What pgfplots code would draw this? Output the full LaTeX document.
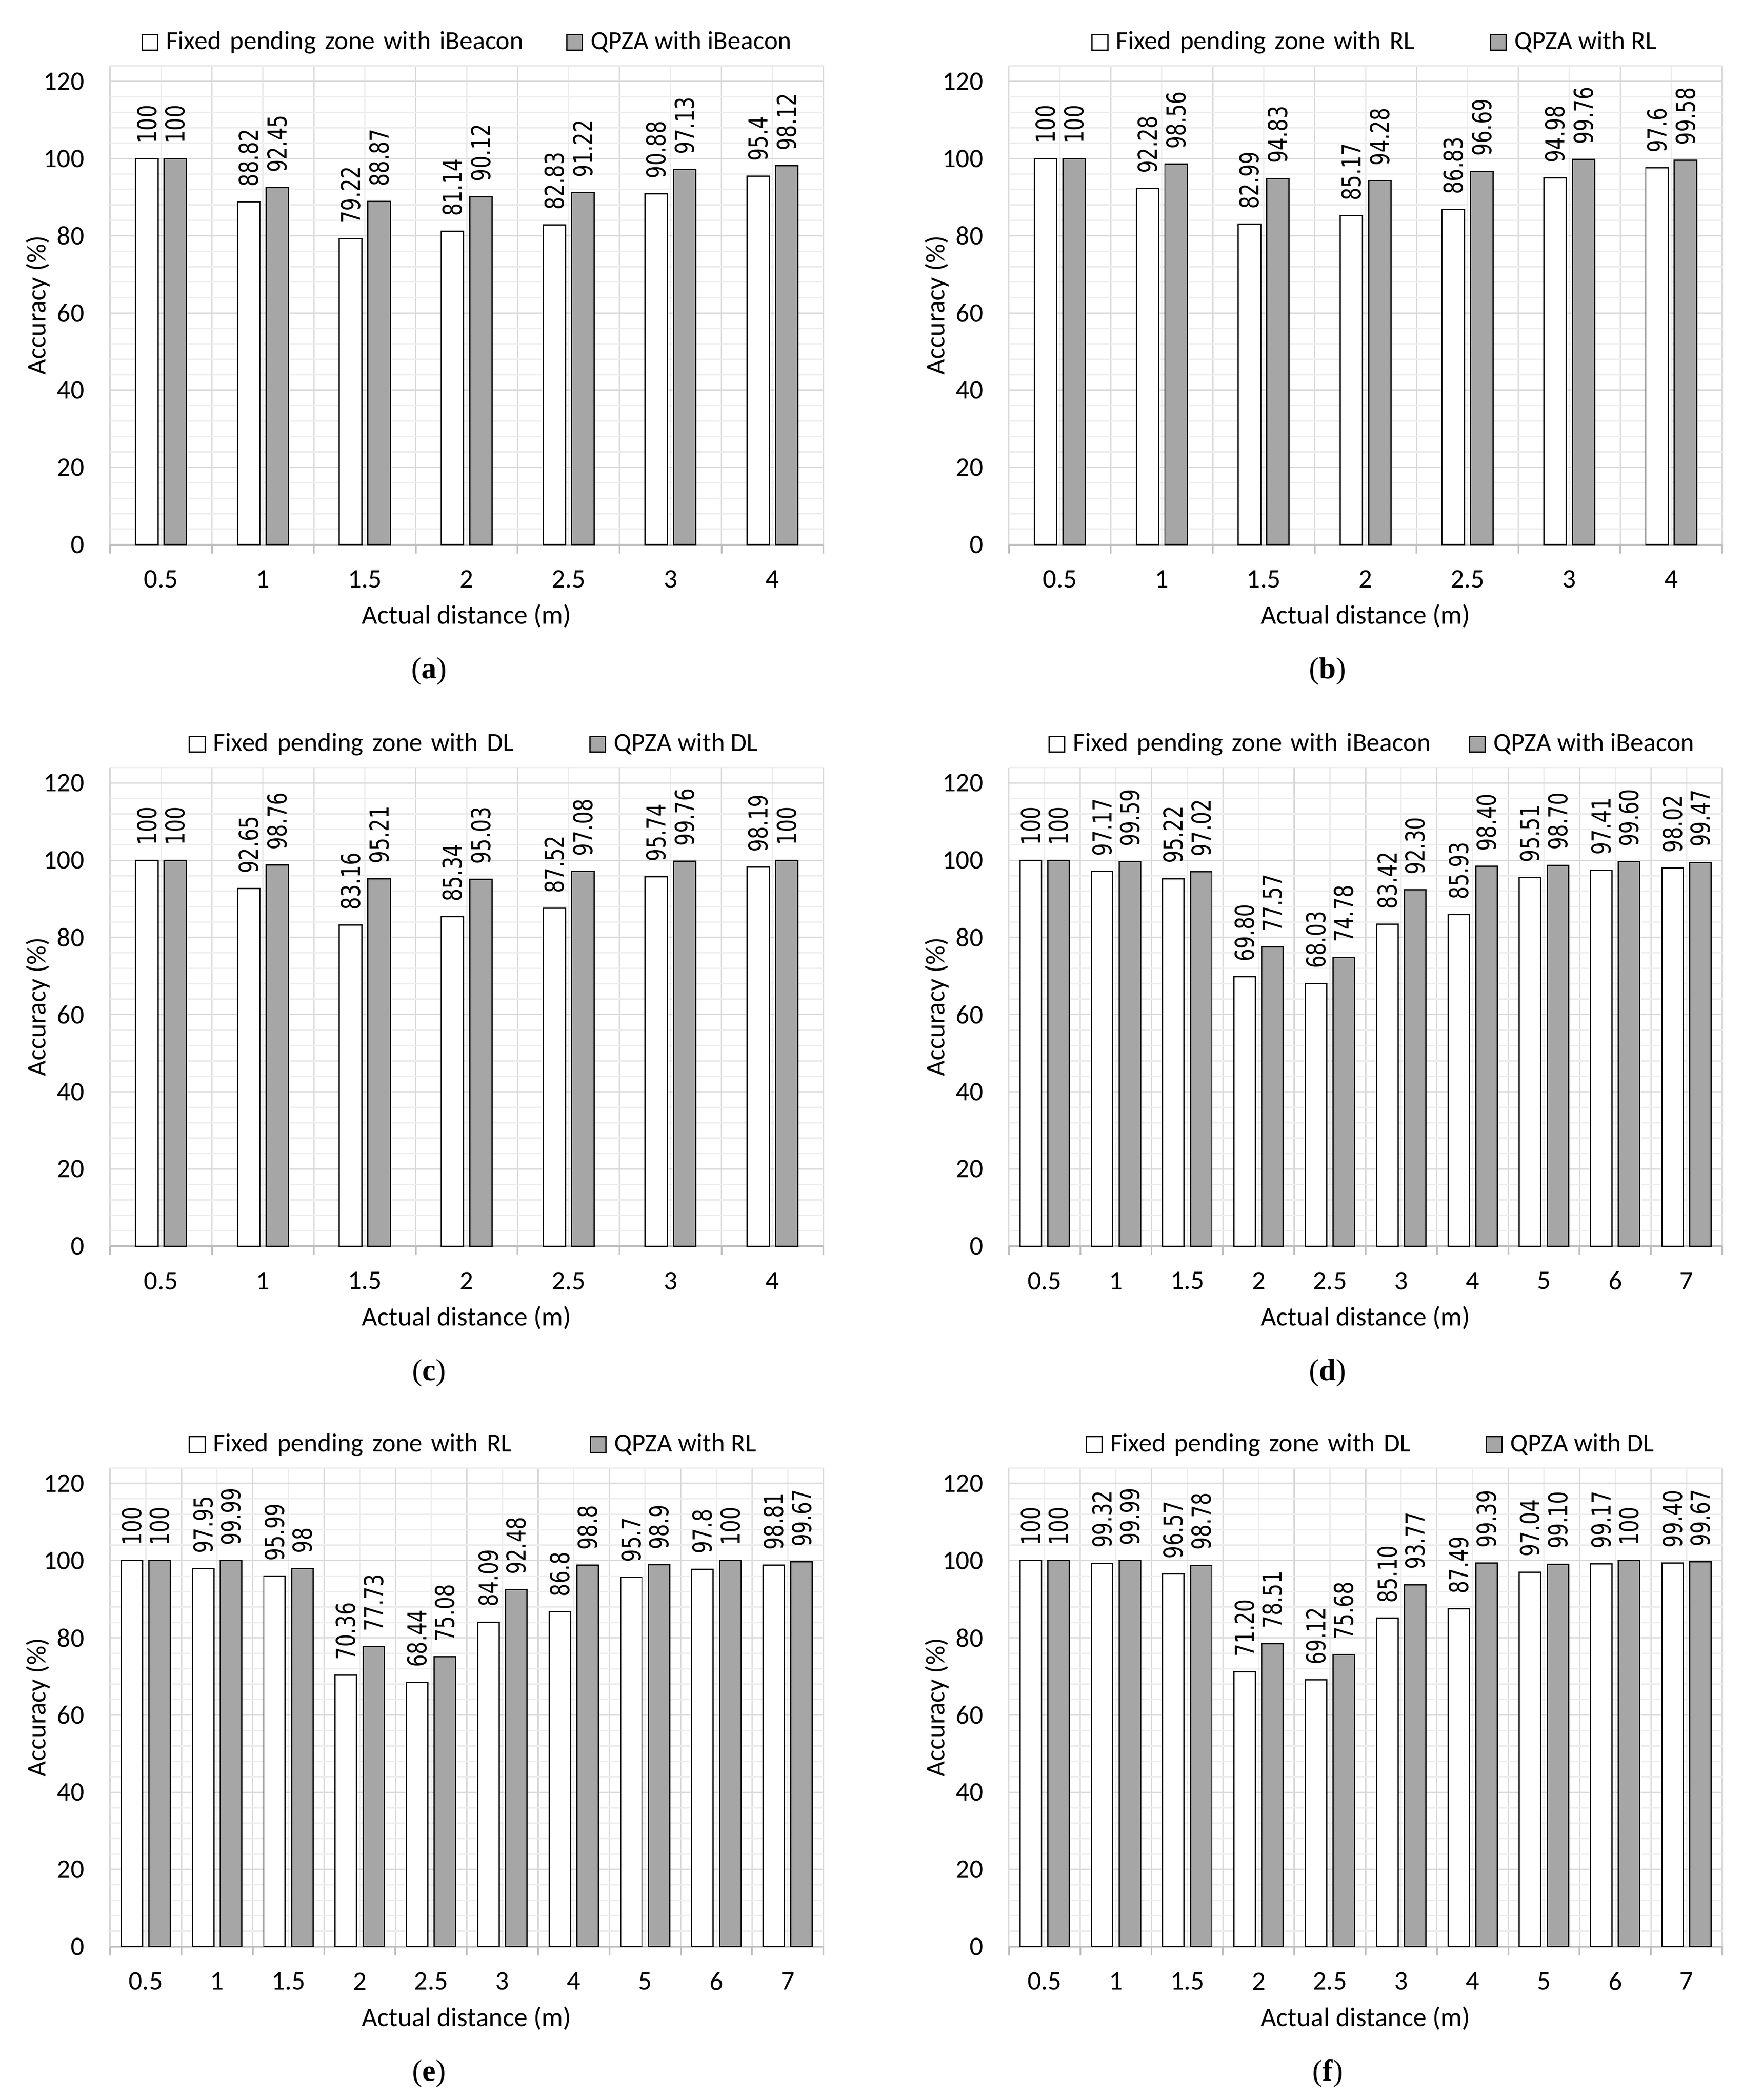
\documentclass[border=0pt]{standalone}
\usepackage{fontspec}
\setmainfont{Carlito}
\newfontfamily\lblfont{DejaVu Sans}
\newfontfamily\capfont{Liberation Serif}
\usepackage{graphicx}
\usepackage{pgfplots}
\usepackage{pgfplotstable}
\pgfplotsset{compat=1.18}

\definecolor{gridmaj}{HTML}{D9D9D9}
\definecolor{gridmin}{HTML}{EDEDED}
\definecolor{axisgray}{HTML}{BFBFBF}
\definecolor{bargray}{HTML}{A6A6A6}

% w = fixed pending zone, g = QPZA
\pgfplotstableread{
w g
100 100
88.82 92.45
79.22 88.87
81.14 90.12
82.83 91.22
90.88 97.13
95.4 98.12
}\dataA
\pgfplotstableread{
w g
100 100
92.28 98.56
82.99 94.83
85.17 94.28
86.83 96.69
94.98 99.76
97.6 99.58
}\dataB
\pgfplotstableread{
w g
100 100
92.65 98.76
83.16 95.21
85.34 95.03
87.52 97.08
95.74 99.76
98.19 100
}\dataC
\pgfplotstableread{
w g
100 100
97.17 99.59
95.22 97.02
69.80 77.57
68.03 74.78
83.42 92.30
85.93 98.40
95.51 98.70
97.41 99.60
98.02 99.47
}\dataD
\pgfplotstableread{
w g
100 100
97.95 99.99
95.99 98
70.36 77.73
68.44 75.08
84.09 92.48
86.8 98.8
95.7 98.9
97.8 100
98.81 99.67
}\dataE
\pgfplotstableread{
w g
100 100
99.32 99.99
96.57 98.78
71.20 78.51
69.12 75.68
85.10 93.77
87.49 99.39
97.04 99.10
99.17 100
99.40 99.67
}\dataF

\newcommand{\barlabel}[1]{{\lblfont\fontsize{7.3}{8}\selectfont\scalebox{1}[1.3]{#1}}}

\pgfplotsset{
  accbase/.style={
    scale only axis,
    width=259.5pt, height=174.15pt,
    anchor=south west,
    clip=false,
    font=\fontsize{9.75}{11}\selectfont,
    /pgf/number format/assume math mode=true,
    ymin=0, ymax=124,
    ytick={0,20,...,120},
    minor ytick={4,8,12,16,24,28,32,36,44,48,52,56,64,68,72,76,84,88,92,96,104,108,112,116,124},
    ymajorgrids, yminorgrids, xmajorgrids, xminorgrids,
    major grid style={draw=gridmaj, line width=0.5pt},
    minor grid style={draw=gridmin, line width=0.5pt},
    separate axis lines,
    axis x line*=bottom,
    axis y line*=left,
    y axis line style={draw=none},
    x axis line style={draw=axisgray, line width=0.6pt, -},
    tick align=outside,
    major tick length=3.2pt,
    minor tick length=0pt,
    xtick style={draw=axisgray, line width=0.6pt},
    ytick style={draw=none},
    xticklabels={},
    extra x tick style={major tick length=0pt, grid=none},
    xticklabel style={anchor=center, yshift=-12.6pt},
    yticklabel style={anchor=east, inner sep=0pt, xshift=-6pt},
    xlabel={Actual distance (m)},
    ylabel={Accuracy (\%)},
    xlabel style={at={(axis description cs:0.5,-0.1494)}, anchor=center},
    ylabel style={at={(axis description cs:-0.101,0.5)}, anchor=center},
    legend columns=2,
    legend cell align=left,
    legend style={draw=none, fill=none, inner sep=0pt, outer sep=0pt,
      column sep=2.8pt, nodes={inner sep=0pt},
      font=\fontsize{9.5}{11}\selectfont},
    legend image code/.code={\draw[#1, line width=0.45pt] (0pt,-2.85pt) rectangle (5.7pt,2.85pt);},
  },
  seven/.style={
    xmin=-0.5, xmax=6.5,
    xtick={-0.5,0.5,1.5,2.5,3.5,4.5,5.5,6.5},
    minor xtick={0,1,2,3,4,5,6},
    extra x ticks={0,1,2,3,4,5,6},
    extra x tick labels={0.5,1,1.5,2,2.5,3,4},
  },
  ten/.style={
    xmin=-0.5, xmax=9.5,
    xtick={-0.5,0.5,1.5,2.5,3.5,4.5,5.5,6.5,7.5,8.5,9.5},
    minor xtick={0,1,2,3,4,5,6,7,8,9},
    extra x ticks={0,1,2,3,4,5,6,7,8,9},
    extra x tick labels={0.5,1,1.5,2,2.5,3,4,5,6,7},
  },
  lbl/.style={
    point meta=explicit symbolic,
    nodes near coords={\barlabel{\pgfplotspointmeta}},
    every node near coord/.append style={rotate=90, anchor=west,
      inner xsep=5.3pt, inner ysep=0pt},
  },
  wbar/.style={ybar, bar width=#1, bar shift=0pt, fill=white, draw=black, line width=0.45pt, lbl},
  gbar/.style={ybar, bar width=#1, bar shift=0pt, fill=bargray, draw=black, line width=0.45pt, lbl},
}

\newcommand{\subcap}[1]{\node[font=\capfont\fontsize{11}{13}\selectfont] at (axis description cs:0.447,-0.265) {(\textbf{#1})};}

\begin{document}
\begin{tikzpicture}
\useasboundingbox (0,0) rectangle (633.6pt,764.1pt);

% (a)
\begin{axis}[accbase, seven, at={(40.05pt,565.95pt)},
  legend style={at={(axis description cs:0.0439,1.049)}, anchor=west}]
\addplot[wbar=0.22] table[x expr=\coordindex-0.14, y=w, meta=w] {\dataA};
\addlegendentry[text width=142.8pt]{Fixed pending zone with iBeacon}
\addplot[gbar=0.22] table[x expr=\coordindex+0.14, y=g, meta=g] {\dataA};
\addlegendentry{QPZA with iBeacon}
\subcap{a}
\end{axis}

% (b)
\begin{axis}[accbase, seven, at={(367.05pt,565.95pt)},
  legend style={at={(axis description cs:0.1157,1.049)}, anchor=west}]
\addplot[wbar=0.22] table[x expr=\coordindex-0.14, y=w, meta=w] {\dataB};
\addlegendentry[text width=133.2pt]{Fixed pending zone with RL}
\addplot[gbar=0.22] table[x expr=\coordindex+0.14, y=g, meta=g] {\dataB};
\addlegendentry{QPZA with RL}
\subcap{b}
\end{axis}

% (c)
\begin{axis}[accbase, seven, at={(40.05pt,310.65pt)},
  legend style={at={(axis description cs:0.1103,1.049)}, anchor=west}]
\addplot[wbar=0.22] table[x expr=\coordindex-0.14, y=w, meta=w] {\dataC};
\addlegendentry[text width=134pt]{Fixed pending zone with DL}
\addplot[gbar=0.22] table[x expr=\coordindex+0.14, y=g, meta=g] {\dataC};
\addlegendentry{QPZA with DL}
\subcap{c}
\end{axis}

% (d)
\begin{axis}[accbase, ten, at={(367.05pt,310.65pt)},
  legend style={at={(axis description cs:0.0555,1.049)}, anchor=west}]
\addplot[wbar=0.30] table[x expr=\coordindex-0.195, y=w, meta=w] {\dataD};
\addlegendentry[text width=141.2pt]{Fixed pending zone with iBeacon}
\addplot[gbar=0.30] table[x expr=\coordindex+0.195, y=g, meta=g] {\dataD};
\addlegendentry{QPZA with iBeacon}
\subcap{d}
\end{axis}

% (e)
\begin{axis}[accbase, ten, at={(40.05pt,55.8pt)},
  legend style={at={(axis description cs:0.1103,1.049)}, anchor=west}]
\addplot[wbar=0.30] table[x expr=\coordindex-0.195, y=w, meta=w] {\dataE};
\addlegendentry[text width=134.1pt]{Fixed pending zone with RL}
\addplot[gbar=0.30] table[x expr=\coordindex+0.195, y=g, meta=g] {\dataE};
\addlegendentry{QPZA with RL}
\subcap{e}
\end{axis}

% (f)
\begin{axis}[accbase, ten, at={(367.05pt,55.8pt)},
  legend style={at={(axis description cs:0.1076,1.049)}, anchor=west}]
\addplot[wbar=0.30] table[x expr=\coordindex-0.195, y=w, meta=w] {\dataF};
\addlegendentry[text width=133.8pt]{Fixed pending zone with DL}
\addplot[gbar=0.30] table[x expr=\coordindex+0.195, y=g, meta=g] {\dataF};
\addlegendentry{QPZA with DL}
\subcap{f}
\end{axis}
\end{tikzpicture}
\end{document}
